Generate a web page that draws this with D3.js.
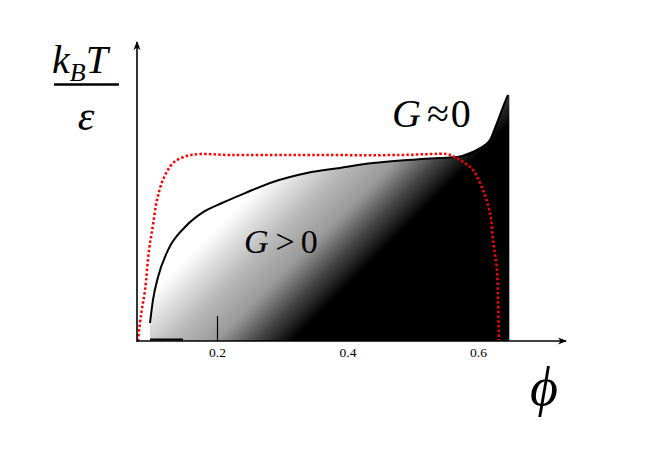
<!DOCTYPE html>
<html>
<head>
<meta charset="utf-8">
<script src="https://cdn.jsdelivr.net/npm/d3@7"></script>
<style>
  html, body { margin: 0; padding: 0; background: #fff; }
  svg { display: block; }
</style>
</head>
<body>
<svg id="chart" width="664" height="470"></svg>
<script>
// ---- data (phi, kT/epsilon in arbitrary units) ----
const boundaryPhi = [0.0973, 0.1019, 0.1096, 0.1249, 0.1510, 0.1770, 0.2077, 0.2429, 0.2858, 0.3379, 0.3885, 0.4391, 0.4912, 0.5418, 0.5678, 0.6031, 0.6184, 0.6291, 0.6383, 0.6460];
const boundaryT   = [0.060, 0.137, 0.213, 0.303, 0.380, 0.427, 0.460, 0.493, 0.530, 0.560, 0.577, 0.593, 0.603, 0.610, 0.613, 0.643, 0.670, 0.727, 0.780, 0.820];
const phiMax = 0.648;

const redPhi = [0.0789, 0.0835, 0.0897, 0.0958, 0.1019, 0.1080, 0.1172, 0.1326, 0.1540, 0.1739, 0.2199, 0.3272, 0.4805, 0.5264, 0.5525, 0.5648, 0.5770, 0.5923, 0.6077, 0.6184, 0.6230, 0.6291, 0.6307, 0.6322];
const redT   = [0.000, 0.087, 0.170, 0.303, 0.387, 0.470, 0.537, 0.593, 0.617, 0.623, 0.620, 0.620, 0.620, 0.623, 0.623, 0.613, 0.597, 0.570, 0.503, 0.427, 0.337, 0.237, 0.127, 0.003];

const tickValues = [0.2, 0.4, 0.6];
const tickLabels = ["0.2", "0.4", "0.6"];
const baseSegPhi = [0.0973, 0.148];

// ---- scales ----
const x = d3.scaleLinear().domain([0.2, 0.6]).range([217, 478]);
const y = d3.scaleLinear().domain([0, 1]).range([341, 41]);
const phiAxisStart = x.invert(137);
const phiAxisEnd = x.invert(566);
const tAxisTop = y.invert(42);

const svg = d3.select("#chart");
const defs = svg.append("defs");

const grad = defs.append("linearGradient")
  .attr("id", "shade").attr("gradientUnits", "userSpaceOnUse")
  .attr("x1", 222).attr("y1", 222).attr("x2", 322).attr("y2", 322);
[[0, "#ffffff"], [0.33, "#bababa"], [0.565, "#999999"], [0.765, "#464646"], [0.95, "#000000"], [1, "#000000"]]
  .forEach(s => grad.append("stop").attr("offset", s[0]).attr("stop-color", s[1]));

defs.append("marker").attr("id", "arrow")
  .attr("viewBox", "0 0 10 10").attr("refX", 9).attr("refY", 5)
  .attr("markerWidth", 9).attr("markerHeight", 9).attr("orient", "auto")
  .attr("markerUnits", "userSpaceOnUse")
  .append("path").attr("d", "M0,1 L10,5 L0,9 L3,5 Z").attr("fill", "#000");

// ---- shaded region ----
const regionPts = [[boundaryPhi[0], 0]]
  .concat(boundaryPhi.map((p, i) => [p, boundaryT[i]]))
  .concat([[phiMax, boundaryT[boundaryT.length - 1]], [phiMax, 0]]);
svg.append("path")
  .attr("d", d3.line().x(d => x(d[0])).y(d => y(d[1]))(regionPts) + "Z")
  .attr("fill", "url(#shade)");

// boundary curve
svg.append("path")
  .attr("d", d3.line().curve(d3.curveMonotoneX).x((p) => x(p)).y((p, i) => y(boundaryT[i]))(boundaryPhi))
  .attr("fill", "none").attr("stroke", "#000").attr("stroke-width", 2);

// short base segment
svg.append("line")
  .attr("x1", x(baseSegPhi[0])).attr("x2", x(baseSegPhi[1]))
  .attr("y1", y(0) - 1.5).attr("y2", y(0) - 1.5)
  .attr("stroke", "#000").attr("stroke-width", 2);

// red dotted curve
svg.append("path")
  .attr("d", d3.line().curve(d3.curveCatmullRom).x((p) => x(p)).y((p, i) => y(redT[i]))(redPhi))
  .attr("fill", "none").attr("stroke", "#ff0000").attr("stroke-width", 2.5)
  .attr("stroke-dasharray", "2.5,2.2");

// ---- axes ----
const xAxis = d3.axisBottom(x).tickValues(tickValues)
  .tickFormat((d, i) => tickLabels[i]).tickSizeInner(-25).tickSizeOuter(0).tickPadding(6);
const gx = svg.append("g").attr("transform", `translate(0,${y(0)})`).call(xAxis);
gx.select(".domain").remove();
gx.selectAll(".tick line").attr("stroke", "#000").attr("stroke-width", 1.2);
gx.selectAll(".tick text").attr("font-family", "'Liberation Serif', serif")
  .attr("font-size", 13.5).attr("fill", "#000");

svg.append("line")
  .attr("x1", x(phiAxisStart)).attr("x2", x(phiAxisEnd))
  .attr("y1", y(0)).attr("y2", y(0))
  .attr("stroke", "#000").attr("stroke-width", 1.6).attr("marker-end", "url(#arrow)");
svg.append("line")
  .attr("x1", x(phiAxisStart)).attr("x2", x(phiAxisStart))
  .attr("y1", y(0) + 1).attr("y2", y(tAxisTop))
  .attr("stroke", "#000").attr("stroke-width", 1.6).attr("marker-end", "url(#arrow)");

// ---- labels ----
const serif = "'Liberation Serif', 'Times New Roman', serif";
const yl = svg.append("text").attr("x", 52).attr("y", 73)
  .attr("font-family", serif).attr("font-style", "italic").attr("font-size", 40).attr("fill", "#000");
yl.append("tspan").text("k");
yl.append("tspan").attr("font-size", 26).attr("dy", 8).text("B");
yl.append("tspan").attr("dy", -8).text("T");
svg.append("line").attr("x1", 54).attr("x2", 119).attr("y1", 84.5).attr("y2", 84.5)
  .attr("stroke", "#000").attr("stroke-width", 2.5);
svg.append("text").attr("x", 86).attr("y", 130).attr("text-anchor", "middle")
  .attr("font-family", serif).attr("font-style", "italic").attr("font-size", 42).text("ε");

const g0 = svg.append("text").attr("x", 392).attr("y", 127)
  .attr("font-family", serif).attr("font-size", 40).attr("fill", "#000");
g0.append("tspan").attr("font-style", "italic").text("G");
g0.append("tspan").attr("dx", 6).text("≈");
g0.append("tspan").attr("dx", 2).text("0");

const g1 = svg.append("text").attr("x", 244).attr("y", 253)
  .attr("font-family", serif).attr("font-size", 34).attr("fill", "#000");
g1.append("tspan").attr("font-style", "italic").text("G");
g1.append("tspan").attr("dx", 7).text(">");
g1.append("tspan").attr("dx", 6).text("0");

svg.append("text").attr("x", 544).attr("y", 405).attr("text-anchor", "middle")
  .attr("font-family", serif).attr("font-style", "italic").attr("font-size", 54).text("ϕ");
</script>
</body>
</html>
